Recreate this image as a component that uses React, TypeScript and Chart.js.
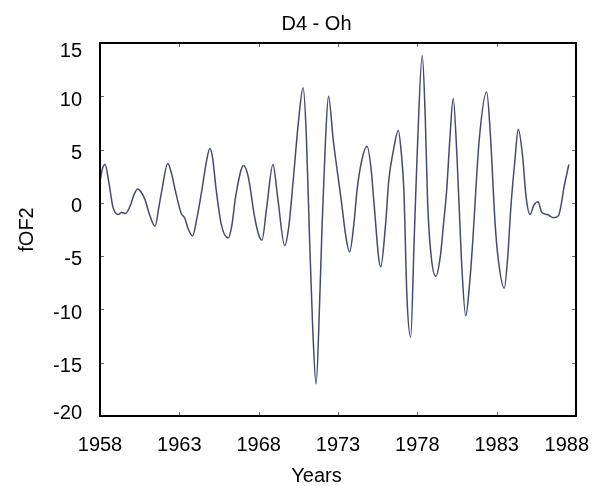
import React, { useEffect, useRef } from "react";
import { Chart, registerables } from "chart.js";

Chart.register(...registerables);

// Decimal year of each sample
const years: number[] = [
  1958.0, 1958.15, 1958.32, 1958.55, 1958.8, 1958.95, 1959.15, 1959.35, 1959.6, 1959.9,
  1960.15, 1960.38, 1960.6, 1960.84, 1961.1, 1961.47, 1961.7, 1961.9, 1962.27, 1962.5,
  1962.74, 1963.12, 1963.33, 1963.55, 1963.83, 1964.1, 1964.42, 1964.7, 1964.92, 1965.1,
  1965.3, 1965.64, 1966.07, 1966.3, 1966.55, 1967.05, 1967.35, 1967.74, 1968.0, 1968.21,
  1968.5, 1968.9, 1969.2, 1969.64, 1969.9, 1970.2, 1970.5, 1970.8, 1971.0, 1971.2,
  1971.4, 1971.62, 1971.85, 1972.0, 1972.2, 1972.4, 1972.7, 1973.2, 1973.5, 1973.73,
  1974.0, 1974.2, 1974.5, 1974.83, 1975.1, 1975.25, 1975.69, 1976.0, 1976.2, 1976.5,
  1976.8, 1977.0, 1977.15, 1977.35, 1977.58, 1977.8, 1978.0, 1978.31, 1978.5, 1978.65,
  1978.85, 1979.16, 1979.45, 1979.65, 1979.85, 1980.05, 1980.26, 1980.5, 1980.77, 1981.05,
  1981.3, 1981.47, 1981.9, 1982.37, 1982.6, 1982.9, 1983.1, 1983.48, 1983.7, 1983.9,
  1984.15, 1984.36, 1984.64, 1984.85, 1985.1, 1985.35, 1985.6, 1985.85, 1986.2, 1986.6,
  1986.9, 1987.05, 1987.25, 1987.55,
];

// fOF2 D4 component
const fof2: number[] = [
  2.0, 3.2, 3.6, 2.0, -0.3, -0.9, -1.1, -0.9, -1.0, -0.3,
  0.8, 1.3, 1.0, 0.3, -1.0, -2.2, -0.5, 1.2, 3.7, 2.8,
  1.2, -1.0, -1.4, -2.4, -3.1, -1.5, 1.2, 3.8, 5.1, 4.2,
  1.5, -2.0, -3.3, -2.2, 0.6, 3.5, 2.4, -1.3, -3.0, -3.5,
  -0.5, 3.6, 0.5, -4.0, -2.2, 2.5, 7.5, 10.8, 6.5, -3.0,
  -11.5, -17.0, -9.0, -2.0, 5.5, 10.0, 5.9, 0.3, -3.2, -4.6,
  -2.0, 1.2, 4.0, 5.3, 3.0, 0.3, -6.0, -2.0, 2.1, 5.0,
  6.8, 4.5, 1.2, -9.0, -12.6, -3.5, 5.0, 13.8, 8.0, 0.0,
  -4.7, -6.9, -5.0, -2.0, 1.2, 6.0, 9.8, 4.3, -5.0, -10.6,
  -7.5, -4.1, 5.9, 10.4, 6.5, -1.9, -5.3, -8.0, -5.0, -0.3,
  4.0, 6.9, 4.3, 0.6, -1.1, -0.2, 0.1, -0.9, -1.1, -1.4,
  -1.2, -0.3, 1.5, 3.6,
];

const xTicks: number[] = [1958, 1963, 1968, 1973, 1978, 1983, 1988];
const yTicks: number[] = [-20, -15, -10, -5, 0, 5, 10, 15];

const TITLE = "D4 - Oh";
const X_LABEL = "Years";
const Y_LABEL = "fOF2";

const FONT = "20px 'Liberation Sans', Arial, sans-serif";

// Frame, inward tick marks and all text of the figure
const figurePlugin = {
  id: "figure",
  afterDraw(chart: any) {
    const { ctx, chartArea: a, scales, width } = chart;
    const len = 4;
    ctx.save();

    // inward tick marks on all four sides
    ctx.strokeStyle = "#666";
    ctx.lineWidth = 1;
    ctx.beginPath();
    for (const v of xTicks) {
      const px = Math.round(scales.x.getPixelForValue(v)) + 0.5;
      ctx.moveTo(px, a.bottom);
      ctx.lineTo(px, a.bottom - len);
      ctx.moveTo(px, a.top);
      ctx.lineTo(px, a.top + len);
    }
    for (const v of yTicks) {
      const py = Math.round(scales.y.getPixelForValue(v)) + 0.5;
      ctx.moveTo(a.left, py);
      ctx.lineTo(a.left + len, py);
      ctx.moveTo(a.right, py);
      ctx.lineTo(a.right - len, py);
    }
    ctx.stroke();

    // plot frame
    ctx.strokeStyle = "#000";
    ctx.lineWidth = 2;
    ctx.strokeRect(a.left, a.top, a.right - a.left, a.bottom - a.top);

    ctx.fillStyle = "#000";
    ctx.font = FONT;
    ctx.textBaseline = "alphabetic";

    // x tick labels, kept inside the figure at the right edge
    ctx.textAlign = "center";
    for (const v of xTicks) {
      const text = String(v);
      const w = ctx.measureText(text).width;
      const px = Math.min(scales.x.getPixelForValue(v), width - 14 - w / 2);
      ctx.fillText(text, px, a.bottom + 35);
    }

    // y tick labels, kept inside the vertical extent of the frame
    ctx.textAlign = "right";
    for (const v of yTicks) {
      const py = scales.y.getPixelForValue(v) + 2;
      const cy = Math.max(a.top + 7, Math.min(a.bottom - 4, py));
      ctx.fillText(String(v), a.left - 18, cy + 7.3);
    }

    // titles
    const cx = (width + 30) / 2;
    ctx.textAlign = "center";
    ctx.fillText(TITLE, cx, a.top - 13.5);
    ctx.fillText(X_LABEL, cx, a.bottom + 66);

    ctx.translate(33, (a.top + a.bottom) / 2);
    ctx.rotate(-Math.PI / 2);
    ctx.fillText(Y_LABEL, 0, 0);

    ctx.restore();
  },
};

export default function App() {
  const canvasRef = useRef<HTMLCanvasElement | null>(null);

  useEffect(() => {
    const canvas = canvasRef.current;
    if (!canvas) return;
    const chart = new Chart(canvas, {
      type: "line",
      data: {
        datasets: [
          {
            data: years.map((y, i) => ({ x: y, y: fof2[i] })),
            borderColor: "#454a6e",
            borderWidth: 1.5,
            pointRadius: 0,
            cubicInterpolationMode: "monotone",
            fill: false,
          },
        ],
      },
      options: {
        animation: false,
        responsive: false,
        maintainAspectRatio: false,
        layout: { padding: { left: 0, right: 27, top: 43, bottom: 0 } },
        plugins: {
          legend: { display: false },
          tooltip: { enabled: false },
          title: { display: false },
        },
        scales: {
          x: {
            type: "linear",
            min: 1958,
            max: 1988,
            afterBuildTicks: (axis: any) => {
              axis.ticks = xTicks.map((v) => ({ value: v }));
            },
            afterFit: (axis: any) => {
              axis.height = 70;
            },
            grid: { display: false, drawTicks: false },
            border: { display: false },
            ticks: { display: false },
          },
          y: {
            type: "linear",
            min: -20,
            max: 15,
            afterBuildTicks: (axis: any) => {
              axis.ticks = yTicks.map((v) => ({ value: v }));
            },
            afterFit: (axis: any) => {
              axis.width = 100;
            },
            grid: { display: false, drawTicks: false },
            border: { display: false },
            ticks: { display: false },
          },
        },
      },
      plugins: [figurePlugin],
    });
    return () => chart.destroy();
  }, []);

  return (
    <div style={{ position: "fixed", left: 0, top: 0, width: 603, height: 486, background: "#fff" }}>
      <canvas ref={canvasRef} width={603} height={486} style={{ display: "block" }} />
    </div>
  );
}
